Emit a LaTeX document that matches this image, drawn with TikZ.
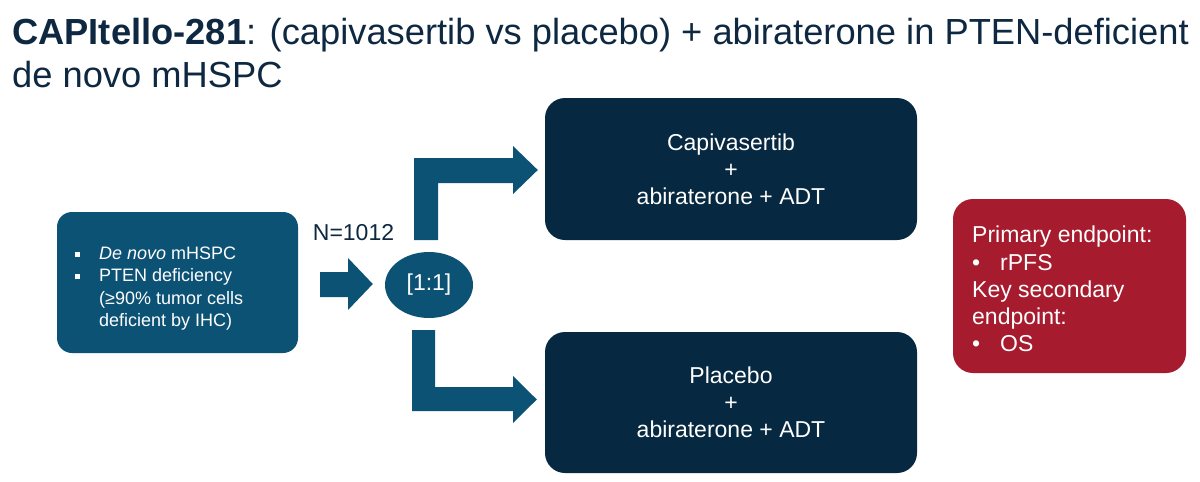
\documentclass[tikz,border=0pt]{standalone}
\usepackage{fontspec}
\setmainfont{Liberation Sans}
\usetikzlibrary{shapes.geometric}
\definecolor{teal}{HTML}{0C5275}
\definecolor{navy}{HTML}{062840}
\definecolor{endred}{HTML}{A61B2E}
\definecolor{titlecol}{HTML}{0E2841}
\newcommand{\sqbul}{\makebox[24pt][l]{\raisebox{2.5pt}{\rule{5pt}{5pt}}}}
\newcommand{\dotbul}{\makebox[28pt][l]{•}}
\begin{document}
\begin{tikzpicture}[x=1pt,y=-1pt,
  tealbox/.style={fill=teal, draw=none, rounded corners=15pt, inner sep=0pt},
  darkbox/.style={fill=navy, draw=none, rounded corners=20pt, inner sep=0pt, text=white, align=center, font=\fontsize{23}{27}\selectfont},
  redbox/.style={fill=endred, draw=none, rounded corners=20pt, inner sep=0pt},
  blockarrow/.style={fill=teal, draw=none},
  whitetext/.style={text=white, inner sep=0pt, align=left},
  titletext/.style={anchor=base west, inner sep=0pt, text=titlecol, font=\fontsize{36.3}{43}\selectfont}
]
\useasboundingbox (0,0) rectangle (1200,482);
\fill[white] (0,0) rectangle (1200,482);

% title
\node[titletext] (t1) at (12,44)
  {\textbf{CAPItello-281}: (capivasertib vs placebo) + abiraterone in PTEN-deficient};
\node[titletext] (t2) at (12,87)
  {de novo mHSPC};

% left box
\node[tealbox, minimum width=241pt, minimum height=141pt] (pop) at (177.5,282.5) {};
\node[whitetext, anchor=north west, font=\fontsize{18}{22.5}\selectfont] (poptext) at (75,246.5)
  {\sqbul\textit{De novo} mHSPC\\
   \sqbul PTEN deficiency\\
   \hspace*{24pt}(≥90\% tumor cells\\
   \hspace*{24pt}deficient by IHC)};

% N label
\node[inner sep=0pt, text=titlecol, font=\fontsize{23}{27}\selectfont] (n) at (353.5,233) {N=1012};

% randomisation ellipse
\node[ellipse, fill=teal, draw=none, minimum width=88pt, minimum height=66pt, inner sep=0pt,
  text=white, font=\fontsize{23}{27}\selectfont] (rand) at (429,285) {[1:1]};

% arms
\node[darkbox, minimum width=372pt, minimum height=142pt] (capi) at (731,169)
  {Capivasertib\\+\\abiraterone + ADT};
\node[darkbox, minimum width=372pt, minimum height=141pt] (plac) at (731,402.5)
  {Placebo\\+\\abiraterone + ADT};

% endpoints
\node[redbox, minimum width=233pt, minimum height=174pt] (endp) at (1069.5,286) {};
\node[whitetext, anchor=west, font=\fontsize{23}{27.2}\selectfont] (endtext) at (972,289)
  {Primary endpoint:\\
   \dotbul rPFS\\
   Key secondary\\
   endpoint:\\
   \dotbul OS};

% block arrows
\fill[blockarrow] (320,272) -- (348,272) -- (348,258) -- ([xshift=-12pt,yshift=1pt]rand.west) -- (348,310) -- (348,297) -- (320,297) -- cycle;
\fill[blockarrow] (414,240) -- (414,158) -- (513,158) -- (513,146) -- ([xshift=-7pt,yshift=-1pt]capi.west) -- (513,194) -- (513,183) -- (438,183) -- (438,240) -- cycle;
\fill[blockarrow] (412,330) -- (435,330) -- (435,387) -- (513,387) -- (513,376) -- ([xshift=-8pt,yshift=3pt]plac.west) -- (513,423) -- (513,411) -- (412,411) -- cycle;
\end{tikzpicture}
\end{document}
